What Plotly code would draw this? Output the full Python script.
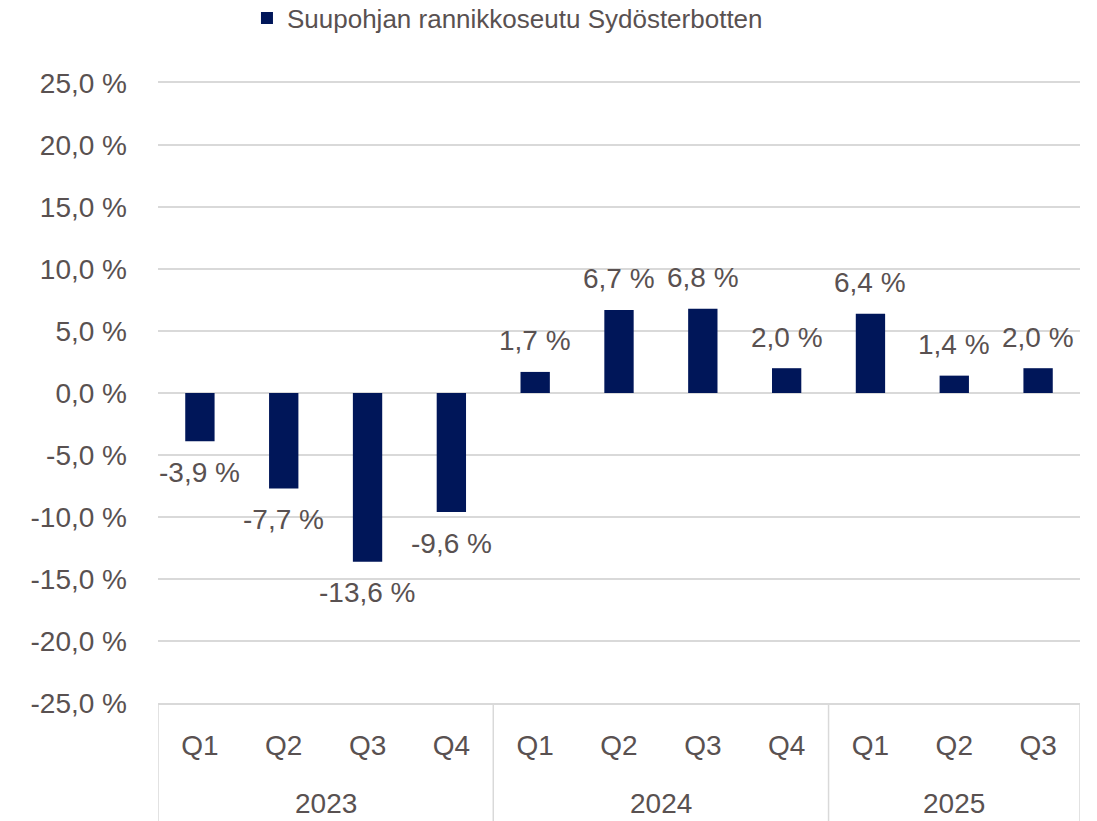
import plotly.graph_objects as go

years = ["2023", "2024", "2025"]
quarters_per_year = [["Q1", "Q2", "Q3", "Q4"], ["Q1", "Q2", "Q3", "Q4"], ["Q1", "Q2", "Q3"]]
quarters = [q for qs in quarters_per_year for q in qs]
values = [-3.9, -7.7, -13.6, -9.6, 1.7, 6.7, 6.8, 2.0, 6.4, 1.4, 2.0]
series_name = "Suupohjan rannikkoseutu Sydösterbotten"
y_ticks = [-25, -20, -15, -10, -5, 0, 5, 10, 15, 20, 25]

BAR = "#001659"
TXT = "#595151"
GRID = "#D9D9D9"
FONT = "Liberation Sans, Arial, sans-serif"
FS = 28


def fmt(v):
    return f"{v:.1f}".replace(".", ",") + " %"


idx = list(range(len(values)))

fig = go.Figure()
fig.add_trace(go.Bar(
    x=idx, y=values, name=series_name,
    marker=dict(color=BAR, line=dict(width=0)),
    width=0.35,
    showlegend=True,
))

for i, v in zip(idx, values):
    fig.add_annotation(
        x=i, y=v, xref="x", yref="y",
        text=fmt(v), showarrow=False,
        yshift=31 if v >= 0 else -31,
        font=dict(family=FONT, size=FS, color=TXT),
    )

# year group labels and dividers
PLOT_H = 821 - 83 - 118
start = 0
bounds = [-0.5]
for y, qs in zip(years, quarters_per_year):
    n = len(qs)
    center = start + (n - 1) / 2
    fig.add_annotation(
        x=center, y=-(803 - 703) / PLOT_H, xref="x", yref="paper",
        text=y, showarrow=False, yanchor="middle",
        font=dict(family=FONT, size=FS, color=TXT),
    )
    start += n
    bounds.append(start - 0.5)
for b in bounds:
    fig.add_shape(type="line", xref="x", yref="paper", x0=b, x1=b, y0=0, y1=-0.2,
                  line=dict(color=GRID, width=1.5), layer="below")

fig.update_layout(
    width=1097, height=821,
    margin=dict(l=158, r=17, t=83, b=118),
    plot_bgcolor="white", paper_bgcolor="white",
    font=dict(family=FONT, size=FS, color=TXT),
    showlegend=True,
    legend=dict(orientation="h", x=0.4626, xanchor="center", y=0.978, yanchor="middle",
                xref="container", yref="container",
                font=dict(size=26, color=TXT, family=FONT)),
)
fig.update_yaxes(
    range=[-25, 25], tickvals=y_ticks, ticktext=[fmt(t) for t in y_ticks],
    showgrid=True, gridcolor=GRID, gridwidth=1.5, zeroline=True, zerolinecolor=GRID,
    zerolinewidth=1.5, showline=False, ticks="", ticklabelstandoff=30,
    tickfont=dict(size=FS, color=TXT, family=FONT),
)
fig.update_xaxes(
    range=[-0.5, len(values) - 0.5], tickvals=idx, ticktext=quarters,
    showline=True, linecolor=GRID, linewidth=1.5, mirror=True,
    showgrid=False, zeroline=False, ticks="", ticklabelstandoff=17,
    tickfont=dict(size=FS, color=TXT, family=FONT),
)
fig.write_html("out.html", config={"displayModeBar": False},
               post_script="document.body.style.margin='0';document.body.style.padding='0';")
